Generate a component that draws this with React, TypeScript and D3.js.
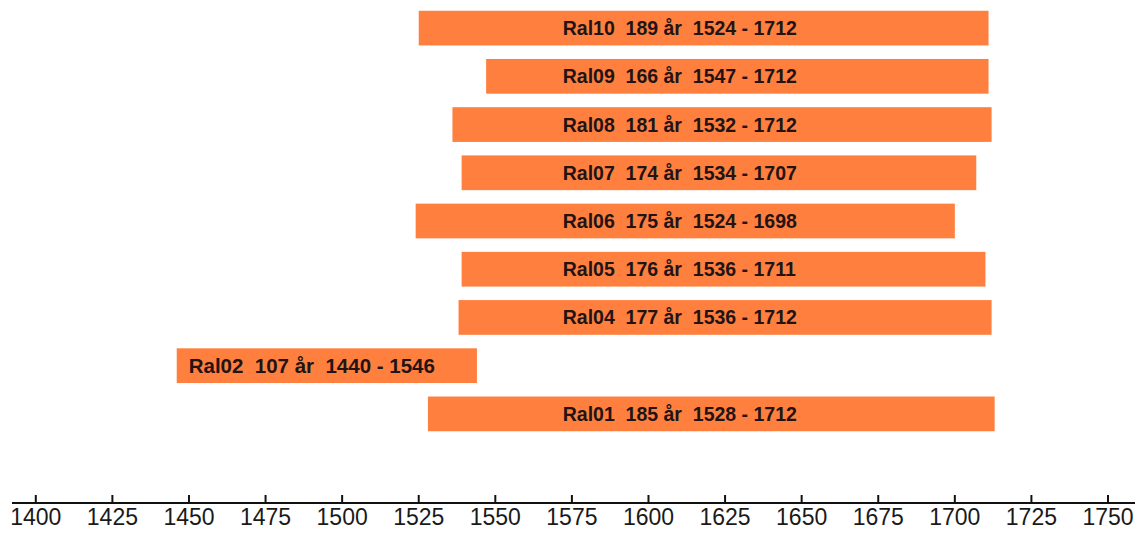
import React from "react";
import * as d3 from "d3";

// Rows from top to bottom
const names = ["Ral10", "Ral09", "Ral08", "Ral07", "Ral06", "Ral05", "Ral04", "Ral02", "Ral01"];
const spanYears = [189, 166, 181, 174, 175, 176, 177, 107, 185];
const fromYears = [1524, 1547, 1532, 1534, 1524, 1536, 1536, 1440, 1528];
const toYears = [1712, 1712, 1712, 1707, 1698, 1711, 1712, 1546, 1712];
// bar extents as drawn in the picture
const barStart = [1525, 1547, 1536, 1539, 1524, 1539, 1538, 1446, 1528];
const barEnd = [1711, 1711, 1712, 1707, 1700, 1710, 1712, 1544, 1713];
const tickYears = [1400, 1425, 1450, 1475, 1500, 1525, 1550, 1575, 1600, 1625, 1650, 1675, 1700, 1725, 1750];

const W = 1135;
const H = 535;
const FONT = "'Liberation Sans', Arial, sans-serif";

export default function App() {
  const x = d3.scaleLinear().domain([1400, 1750]).range([35.8, 1108]);
  const y = d3
    .scaleBand<string>()
    .domain(names)
    .range([4, 438])
    .paddingInner(0.28)
    .paddingOuter(0.14);
  const axisY = 503;
  const labelX = x(1572);

  return (
    <svg
      width={W}
      height={H}
      style={{ position: "absolute", left: 0, top: 0, background: "#fff" }}
    >
      <rect x={0} y={0} width={W} height={H} fill="#fff" />
      {names.map((n, i) => {
        const x0 = x(barStart[i]);
        const x1 = x(barEnd[i]);
        const yy = y(n)!;
        const bh = y.bandwidth();
        const fits = labelX > x0 + 10 && labelX + 250 < x1;
        const tx = fits ? labelX : x0 + 12;
        return (
          <g key={n}>
            <rect x={x0} y={yy} width={x1 - x0} height={bh} fill="#FF7F3F" />
            <text
              x={tx}
              y={yy + bh / 2 + 7}
              fontFamily={FONT}
              fontWeight="bold"
              fontSize={fits ? 19.5 : 20.5}
              fill="#221414"
              style={{ whiteSpace: "pre" }}
            >
              {`${n}  ${spanYears[i]} år  ${fromYears[i]} - ${toYears[i]}`}
            </text>
          </g>
        );
      })}
      <line x1={12} x2={W} y1={axisY} y2={axisY} stroke="#111" strokeWidth={2} />
      {tickYears.map((t) => (
        <g key={t}>
          <line x1={x(t)} x2={x(t)} y1={axisY} y2={axisY - 8} stroke="#111" strokeWidth={2} />
          <text
            x={x(t)}
            y={525}
            textAnchor="middle"
            fontFamily={FONT}
            fontSize={23}
            fill="#1a1a1a"
          >
            {t}
          </text>
        </g>
      ))}
    </svg>
  );
}
